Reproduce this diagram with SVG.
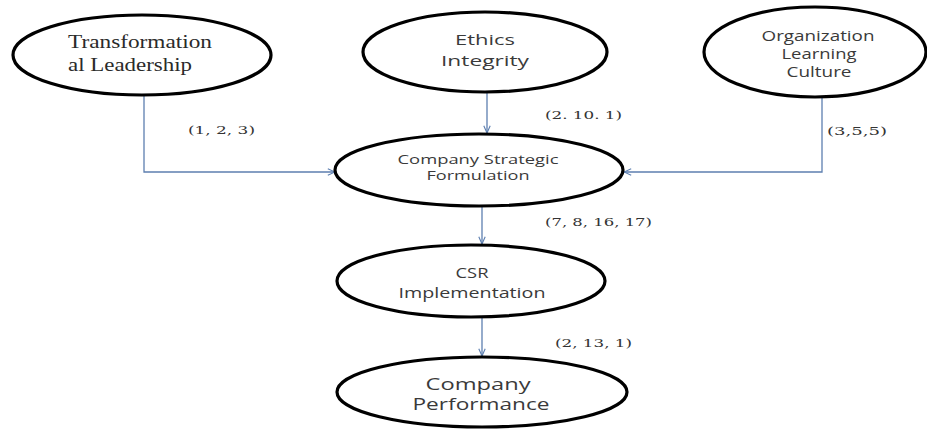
<svg xmlns="http://www.w3.org/2000/svg" width="927" height="429" viewBox="0 0 927 429">
  <defs>
    <style>
      .node ellipse { fill: #ffffff; stroke: #000000; stroke-width: 3.2; }
      .sans { font-family: "Open Sans", "Liberation Sans", sans-serif; fill: #3a3a3a; text-anchor: middle; }
      .serif { font-family: "Liberation Serif", "DejaVu Serif", serif; fill: #2a2a2a; }
      .lbl { font-family: "DejaVu Serif", "Liberation Serif", serif; font-size: 11px; fill: #333333; }
      .edge { fill: none; stroke: #5d7fb0; stroke-width: 1.3; marker-end: url(#arrow); }
    </style>
    <marker id="arrow" viewBox="0 0 10 10" refX="10" refY="5" markerWidth="8" markerHeight="8" markerUnits="userSpaceOnUse" orient="auto">
      <path d="M1,1 L10,5 L1,9" fill="none" stroke="#5d7fb0" stroke-width="1.4"/>
    </marker>
  </defs>
  <rect width="927" height="429" fill="#ffffff"/>

  <g id="connectors">
    <path class="edge" d="M144,95 V172 H335"/>
    <path class="edge" d="M487,93 V133"/>
    <path class="edge" d="M822,97 V172 H624"/>
    <path class="edge" d="M482,206 V244"/>
    <path class="edge" d="M482,317 V356"/>
  </g>

  <g id="labels">
    <text class="lbl" x="188" y="134" textLength="67" lengthAdjust="spacingAndGlyphs">(1, 2, 3)</text>
    <text class="lbl" x="545" y="119" textLength="77" lengthAdjust="spacingAndGlyphs">(2. 10. 1)</text>
    <text class="lbl" x="827" y="135" textLength="60" lengthAdjust="spacingAndGlyphs">(3,5,5)</text>
    <text class="lbl" x="545" y="226" textLength="107" lengthAdjust="spacingAndGlyphs">(7, 8, 16, 17)</text>
    <text class="lbl" x="555" y="347" textLength="77" lengthAdjust="spacingAndGlyphs">(2, 13, 1)</text>
  </g>

  <g id="transformational-leadership" class="node">
    <ellipse cx="142" cy="55" rx="129" ry="40"/>
    <text class="serif" font-size="18" x="68" y="48" textLength="144" lengthAdjust="spacingAndGlyphs">Transformation</text>
    <text class="serif" font-size="18" x="68" y="71" textLength="124" lengthAdjust="spacingAndGlyphs">al Leadership</text>
  </g>

  <g id="ethics-integrity" class="node">
    <ellipse cx="485" cy="52" rx="122" ry="40"/>
    <text class="sans" font-size="15" x="485" y="45" textLength="60" lengthAdjust="spacingAndGlyphs">Ethics</text>
    <text class="sans" font-size="15" x="485" y="66" textLength="88" lengthAdjust="spacingAndGlyphs">Integrity</text>
  </g>

  <g id="organization-learning-culture" class="node">
    <ellipse cx="815" cy="52" rx="111" ry="45"/>
    <text class="sans" font-size="14.5" x="818" y="41" textLength="113" lengthAdjust="spacingAndGlyphs">Organization</text>
    <text class="sans" font-size="14.5" x="819" y="59" textLength="75" lengthAdjust="spacingAndGlyphs">Learning</text>
    <text class="sans" font-size="14.5" x="819" y="77" textLength="65" lengthAdjust="spacingAndGlyphs">Culture</text>
  </g>

  <g id="company-strategic-formulation" class="node">
    <ellipse cx="479" cy="170" rx="144" ry="36"/>
    <text class="sans" font-size="12" x="478" y="164" textLength="161" lengthAdjust="spacingAndGlyphs">Company Strategic</text>
    <text class="sans" font-size="12" x="478" y="180" textLength="103" lengthAdjust="spacingAndGlyphs">Formulation</text>
  </g>

  <g id="csr-implementation" class="node">
    <ellipse cx="471" cy="281" rx="134" ry="36"/>
    <text class="sans" font-size="14.5" x="472" y="278" textLength="33" lengthAdjust="spacingAndGlyphs">CSR</text>
    <text class="sans" font-size="14.5" x="472" y="298" textLength="147" lengthAdjust="spacingAndGlyphs">Implementation</text>
  </g>

  <g id="company-performance" class="node">
    <ellipse cx="482" cy="392" rx="145" ry="35"/>
    <text class="sans" font-size="15.5" x="478" y="390" textLength="105" lengthAdjust="spacingAndGlyphs">Company</text>
    <text class="sans" font-size="15.5" x="481" y="410" textLength="137" lengthAdjust="spacingAndGlyphs">Performance</text>
  </g>
</svg>
